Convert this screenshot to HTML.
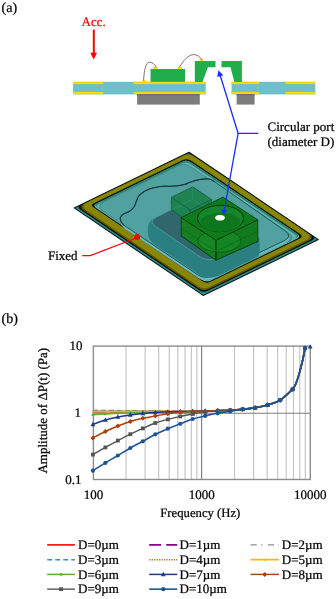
<!DOCTYPE html><html><head><meta charset="utf-8"><title>Figure</title><style>html,body{margin:0;padding:0;background:#fff;overflow:hidden;}svg{display:block;}text{font-family:"Liberation Serif","DejaVu Serif",serif;stroke:#000;stroke-width:0.24px;text-rendering:geometricPrecision;}</style></head><body>
<svg width="336" height="599" viewBox="0 0 336 599">
<rect width="336" height="599" fill="#fff"/>
<text x="1.5" y="12.3" font-size="14">(a)</text>
<text x="81.6" y="25.5" font-size="13" fill="#ff0000" style="stroke:#ff0000">Acc.</text>
<rect x="92.8" y="29.6" width="2" height="23.5" fill="#ff0000"/>
<polygon points="90.3,52.7 97.1,52.7 93.7,59.6" fill="#ff0000"/>
<rect x="73.1" y="81.8" width="132.6" height="12.6" fill="#6fbfca"/>
<rect x="231.6" y="81.8" width="83.7" height="12.6" fill="#6fbfca"/>
<rect x="73.1" y="81.8" width="30.2" height="2.3" fill="#f0dc00"/>
<rect x="73.1" y="91.9" width="30.2" height="2.4" fill="#f0dc00"/>
<rect x="133.6" y="81.8" width="72.1" height="2.3" fill="#f0dc00"/>
<rect x="133.6" y="91.9" width="72.1" height="2.4" fill="#f0dc00"/>
<rect x="231.6" y="81.8" width="27.7" height="2.3" fill="#f0dc00"/>
<rect x="231.6" y="91.9" width="27.7" height="2.4" fill="#f0dc00"/>
<rect x="285.3" y="81.8" width="30" height="2.3" fill="#f0dc00"/>
<rect x="285.3" y="91.9" width="30" height="2.4" fill="#f0dc00"/>
<rect x="137.1" y="94.3" width="62.7" height="10.3" fill="#7c7c7c"/>
<rect x="236.6" y="94.3" width="18" height="10.3" fill="#7c7c7c"/>
<rect x="137.1" y="94.3" width="62.7" height="0.9" fill="#5e5a78"/>
<rect x="236.6" y="94.3" width="18" height="0.9" fill="#5e5a78"/>
<rect x="150.5" y="69" width="34.5" height="12.9" fill="#1fae4b"/>
<polygon points="194.8,61 215.5,61 215.5,67.3 207.9,67.3 202.5,81.9 194.8,81.9" fill="#1fae4b"/>
<polygon points="221.5,61 241.9,61 241.9,81.9 234.4,81.9 230.5,67.3 221.5,67.3" fill="#1fae4b"/>
<rect x="142.2" y="80.2" width="4" height="1.8" fill="#f0dc00"/>
<rect x="153" y="66.9" width="4.5" height="2.2" fill="#f0dc00"/>
<rect x="177.5" y="66.9" width="4.5" height="2.2" fill="#f0dc00"/>
<rect x="199.3" y="59.2" width="4" height="1.9" fill="#f0dc00"/>
<path d="M143.6,80.5 C144,71 145.8,62.2 149.5,62.2 C152.5,62.2 154.8,64.2 156.3,67.2" fill="none" stroke="#666" stroke-width="0.9"/>
<path d="M179.3,67.2 C183.5,60.5 188.5,54.6 193.6,54.6 C197.6,54.6 200.2,57 201.8,59.8" fill="none" stroke="#666" stroke-width="0.9"/>
<polygon points="189,152.3 318.4,239.6 203.2,295.4 74.2,207.9" fill="#2a8a8c" stroke="#06181a" stroke-width="1.1" stroke-linejoin="round"/>
<path d="M185.4,154.14 Q189,152.4 192.32,154.64 L312.18,235.51 Q316.33,238.3 311.83,240.48 L207.87,290.84 Q203.37,293.02 199.23,290.21 L80.57,209.72 Q76.44,206.92 80.94,204.74 Z" fill="#0b0b02"/>
<path d="M184.5,155.08 Q189,152.9 193.14,155.7 L309.06,233.9 Q314.86,237.81 308.56,240.86 L208.94,289.12 Q203.54,291.73 198.58,288.37 L83.86,210.55 Q78.07,206.63 84.37,203.57 Z" fill="#5e5806"/>
<path d="M184.5,155.28 Q189,153.1 193.14,155.9 L306.51,232.38 Q313.14,236.85 305.94,240.34 L209.03,287.28 Q203.63,289.89 198.66,286.52 L86.5,210.44 Q79.88,205.95 87.08,202.46 Z" fill="#898605"/>
<path d="M182.77,160.12 Q187.27,157.94 191.42,160.73 L299.76,233.82 Q303.91,236.62 299.41,238.8 L210.8,281.72 Q206.3,283.9 202.16,281.09 L93.34,207.28 Q90.03,205.03 93.63,203.29 Z" fill="#0d1a12"/>
<path d="M182.6,161.8 Q187.1,159.62 191.25,162.42 L297.09,233.82 Q301.23,236.62 296.73,238.8 L210.88,280.38 Q206.38,282.56 202.24,279.75 L95.92,207.63 Q92.61,205.39 96.21,203.64 Z" fill="#76c8ce"/>
<path d="M182.6,161.8 Q187.1,159.62 191.25,162.42 L296.31,233.3 Q300.45,236.09 295.95,238.27 L211.05,279.4 Q206.55,281.58 202.42,278.77 L96.86,207.17 Q93.55,204.93 97.15,203.18 Z" fill="#2a8468"/>
<path d="M182.26,163.57 Q186.76,161.39 190.9,164.18 L294.58,234.13 Q298.73,236.93 294.23,239.11 L211.05,279.4 Q206.55,281.58 202.42,278.77 L98.24,208.11 Q94.93,205.86 98.53,204.12 Z" fill="#64b5b8"/>
<path d="M179.2,165.35 Q184.6,162.73 189.57,166.09 L288.02,232.51 Q296.31,238.1 287.31,242.46 L213.75,278.09 Q206.55,281.58 199.93,277.08 L103.46,211.65 Q95.19,206.04 104.19,201.68 Z" fill="#52a1a1" stroke="#2d7374" stroke-width="0.6"/>
<path d="M214.5,181.6 C213.58,181.17 211.58,179.33 209,179 C206.42,178.67 202.17,179.05 199,179.6 C195.83,180.15 192.37,181.5 190,182.3 C187.63,183.1 186.87,183.82 184.8,184.4 C182.73,184.98 179.98,185.48 177.6,185.8 C175.22,186.12 172.88,186.22 170.5,186.3 C168.12,186.38 165.68,186.15 163.3,186.3 C160.92,186.45 158.58,186.73 156.2,187.2 C153.82,187.67 151.18,188.27 149,189.1 C146.82,189.93 144.83,191.02 143.1,192.2 C141.37,193.38 139.73,194.65 138.6,196.2 C137.47,197.75 137.07,199.7 136.3,201.5 C135.53,203.3 135.18,205.33 134,207 C132.82,208.67 130.95,210.33 129.2,211.5 C127.45,212.67 124.97,213.02 123.5,214 C122.03,214.98 120.82,216.13 120.4,217.4 C119.98,218.67 120.4,220.28 121,221.6 C121.6,222.92 123.5,224.68 124,225.3 L197.85,274.82 Q204.49,279.28 211.69,275.79 L284.03,240.75 Q293.03,236.39 284.83,230.67 Z" fill="#68babc" transform="translate(0.3,3.2)"/>
<path d="M214.5,181.6 C213.58,181.17 211.58,179.33 209,179 C206.42,178.67 202.17,179.05 199,179.6 C195.83,180.15 192.37,181.5 190,182.3 C187.63,183.1 186.87,183.82 184.8,184.4 C182.73,184.98 179.98,185.48 177.6,185.8 C175.22,186.12 172.88,186.22 170.5,186.3 C168.12,186.38 165.68,186.15 163.3,186.3 C160.92,186.45 158.58,186.73 156.2,187.2 C153.82,187.67 151.18,188.27 149,189.1 C146.82,189.93 144.83,191.02 143.1,192.2 C141.37,193.38 139.73,194.65 138.6,196.2 C137.47,197.75 137.07,199.7 136.3,201.5 C135.53,203.3 135.18,205.33 134,207 C132.82,208.67 130.95,210.33 129.2,211.5 C127.45,212.67 124.97,213.02 123.5,214 C122.03,214.98 120.82,216.13 120.4,217.4 C119.98,218.67 120.4,220.28 121,221.6 C121.6,222.92 123.5,224.68 124,225.3 L197.85,274.82 Q204.49,279.28 211.69,275.79 L284.03,240.75 Q293.03,236.39 284.83,230.67 Z" fill="#52a1a1" stroke="#174a4c" stroke-width="0.9"/>
<path d="M214.5,181.6 C213.58,181.17 211.58,179.33 209,179 C206.42,178.67 202.17,179.05 199,179.6 C195.83,180.15 192.37,181.5 190,182.3 C187.63,183.1 186.87,183.82 184.8,184.4 C182.73,184.98 179.98,185.48 177.6,185.8 C175.22,186.12 172.88,186.22 170.5,186.3 C168.12,186.38 165.68,186.15 163.3,186.3 C160.92,186.45 158.58,186.73 156.2,187.2 C153.82,187.67 151.18,188.27 149,189.1 C146.82,189.93 144.83,191.02 143.1,192.2 C141.37,193.38 139.73,194.65 138.6,196.2 C137.47,197.75 137.07,199.7 136.3,201.5 C135.53,203.3 135.18,205.33 134,207 C132.82,208.67 130.95,210.33 129.2,211.5 C127.45,212.67 124.97,213.02 123.5,214 C122.03,214.98 120.82,216.13 120.4,217.4 C119.98,218.67 120.4,220.28 121,221.6 C121.6,222.92 123.5,224.68 124,225.3" fill="none" stroke="#143a3e" stroke-width="1.15"/>
<path d="M154.98,217.68 Q147.8,221.2 147.8,229.2 L147.8,231.7 Q147.8,239.7 154.42,244.2 L198.24,274 Q208.17,280.75 218.95,275.49 L256.9,257.01 Q259.6,255.7 259.6,252.7 L259.6,240.2 Q259.6,237.2 257.12,235.51 L201.58,197.75 Q199.1,196.06 196.41,197.38 Z" fill="#2a7f80"/>
<path d="M196.41,197.38 Q199.1,196.06 201.58,197.75 L254.64,233.83 Q259.6,237.2 254.21,239.83 L217.16,257.87 Q208.17,262.25 199.9,256.63 L156.07,226.82 Q147.8,221.2 156.78,216.8 Z" fill="#2f676c" stroke="#5aa6a8" stroke-width="0.7"/>
<polygon points="171.4,197.2 192.8,186.8 211.6,199.6 211.6,212.1 190.2,222.5 171.4,209.7" fill="#1f8252" stroke="#0f4a2e" stroke-width="0.6"/>
<polyline points="192.8,199.3 171.4,209.7" fill="none" stroke="#2f9a66" stroke-width="0.6"/>
<polyline points="192.8,186.8 192.8,199.3 211.6,212.1" fill="none" stroke="#2f9a66" stroke-width="0.6"/>
<polyline points="171.4,197.2 190.2,210 211.6,199.6" fill="none" stroke="#0f5a34" stroke-width="0.7"/>
<line x1="190.2" y1="210" x2="190.2" y2="222.5" stroke="#0f5a34" stroke-width="0.7"/>
<polygon points="181.2,217.6 216,240.3 216,260.3 181.2,235.9" fill="#137f21" stroke="#063a0c" stroke-width="0.8"/>
<polygon points="216,240.3 257.8,219.8 257.8,241.5 216,260.3" fill="#117a1f" stroke="#063a0c" stroke-width="0.8"/>
<clipPath id="gbox"><polygon points="181.2,217.6 216,240.3 257.8,219.8 257.8,241.5 216,260.3 181.2,235.9"/></clipPath>
<g clip-path="url(#gbox)"><ellipse cx="219.5" cy="241" rx="21.5" ry="11" fill="#1a9a2c" fill-opacity="0.35" stroke="#08500f" stroke-width="0.8" stroke-opacity="0.8"/>
<polyline points="181.2,235.9 216,260.3 257.8,241.5" fill="none" stroke="#063a0c" stroke-width="0.8"/>
<line x1="216" y1="240.3" x2="216" y2="260.3" stroke="#063a0c" stroke-width="0.8"/>
<ellipse cx="219.5" cy="243.5" rx="16" ry="7.5" fill="none" stroke="#2a9a35" stroke-width="0.7" opacity="0.7"/></g>
<polyline points="181.2,228.1 216,251.3 257.8,231.3" fill="none" stroke="#0a5514" stroke-width="0.6" opacity="0.8"/>
<polygon points="181.2,217.6 223,197.1 257.8,219.8 216,240.3" fill="#0f7b1d" stroke="#063a0c" stroke-width="0.8"/>
<ellipse cx="220.5" cy="218.4" rx="23" ry="13.1" fill="#14852a" stroke="#06330a" stroke-width="1"/>
<ellipse cx="220.5" cy="222.5" rx="20" ry="9.5" fill="#0e761c"/>
<ellipse cx="220" cy="217.7" rx="4.8" ry="2.8" fill="#ffffff"/>
<polyline points="219.3,72.5 238.1,133.3 258.3,133.3" fill="none" stroke="#1a2cff" stroke-width="1.3"/>
<polygon points="218.4,70.3 217.3,77.1 223.2,75.3" fill="#1a2cff"/>
<line x1="238.1" y1="133.3" x2="224.4" y2="209.5" stroke="#1a2cff" stroke-width="1.3"/>
<polygon points="223.5,214.8 221,209.2 227.1,209.8" fill="#1a2cff"/>
<text x="267.5" y="130.8" font-size="13">Circular port</text>
<text x="267.5" y="145.8" font-size="13">(diameter D)</text>
<text x="48" y="260.2" font-size="13">Fixed</text>
<polyline points="82.2,255.6 90.4,255.6 135.5,238.3" fill="none" stroke="#ff0000" stroke-width="1.2"/>
<circle cx="137.2" cy="237.1" r="3" fill="#ff0000"/>
<text x="1.5" y="322.8" font-size="14">(b)</text>
<path d="M126.05,346.1V479.5M145.14,346.1V479.5M158.69,346.1V479.5M169.2,346.1V479.5M177.79,346.1V479.5M185.05,346.1V479.5M191.34,346.1V479.5M196.89,346.1V479.5M234.5,346.1V479.5M253.59,346.1V479.5M267.14,346.1V479.5M277.65,346.1V479.5M286.24,346.1V479.5M293.5,346.1V479.5M299.79,346.1V479.5M305.34,346.1V479.5" stroke="#c4c4c4" stroke-width="1.15" fill="none"/>
<path d="M201.6,346.1V479.5M93.4,413.2H310.3" stroke="#7e7e7e" stroke-width="1.15" fill="none"/>
<rect x="93.4" y="346.1" width="216.9" height="133.4" fill="none" stroke="#8c8c8c" stroke-width="1.4"/>
<path d="M92.9,411.6 C94.98,411.6 101.22,411.6 105.38,411.6 C109.54,411.6 113.7,411.6 117.86,411.6 C122.02,411.6 126.18,411.6 130.34,411.6 C134.5,411.6 138.66,411.6 142.82,411.6 C146.98,411.6 151.14,411.6 155.3,411.6 C159.46,411.6 163.62,411.6 167.78,411.6 C171.94,411.6 176.1,411.6 180.26,411.6 C184.42,411.6 188.58,411.67 192.74,411.6 C196.9,411.53 201.06,411.35 205.22,411.2 C209.38,411.05 213.54,410.87 217.7,410.7 C221.86,410.53 226.02,410.43 230.18,410.2 C234.34,409.97 238.5,409.7 242.66,409.3 C246.82,408.9 250.98,408.53 255.14,407.8 C259.3,407.07 263.46,406.17 267.62,404.9 C271.78,403.63 275.94,402.8 280.1,400.2 C284.26,397.6 290.5,391.12 292.58,389.3 C296.8,385.6 302.5,363 305.1,348" fill="none" stroke="#ff0000" stroke-width="1.6" stroke-linejoin="round"/>
<path d="M92.9,411.7 C94.98,411.7 101.22,411.7 105.38,411.7 C109.54,411.7 113.7,411.7 117.86,411.7 C122.02,411.7 126.18,411.7 130.34,411.7 C134.5,411.7 138.66,411.7 142.82,411.7 C146.98,411.7 151.14,411.7 155.3,411.7 C159.46,411.7 163.62,411.7 167.78,411.7 C171.94,411.7 176.1,411.7 180.26,411.7 C184.42,411.7 188.58,411.78 192.74,411.7 C196.9,411.62 201.06,411.37 205.22,411.2 C209.38,411.03 213.54,410.87 217.7,410.7 C221.86,410.53 226.02,410.43 230.18,410.2 C234.34,409.97 238.5,409.7 242.66,409.3 C246.82,408.9 250.98,408.53 255.14,407.8 C259.3,407.07 263.46,406.17 267.62,404.9 C271.78,403.63 275.94,402.8 280.1,400.2 C284.26,397.6 290.5,391.12 292.58,389.3 C296.8,385.6 302.5,363 305.1,348" fill="none" stroke="#87008f" stroke-width="1.6" stroke-dasharray="12,5" stroke-linejoin="round"/>
<path d="M92.9,411.4 C94.98,411.4 101.22,411.4 105.38,411.4 C109.54,411.4 113.7,411.4 117.86,411.4 C122.02,411.4 126.18,411.4 130.34,411.4 C134.5,411.4 138.66,411.4 142.82,411.4 C146.98,411.4 151.14,411.4 155.3,411.4 C159.46,411.4 163.62,411.4 167.78,411.4 C171.94,411.4 176.1,411.4 180.26,411.4 C184.42,411.4 188.58,411.43 192.74,411.4 C196.9,411.37 201.06,411.32 205.22,411.2 C209.38,411.08 213.54,410.87 217.7,410.7 C221.86,410.53 226.02,410.43 230.18,410.2 C234.34,409.97 238.5,409.7 242.66,409.3 C246.82,408.9 250.98,408.53 255.14,407.8 C259.3,407.07 263.46,406.17 267.62,404.9 C271.78,403.63 275.94,402.8 280.1,400.2 C284.26,397.6 290.5,391.12 292.58,389.3 C296.8,385.6 302.5,363 305.1,348" fill="none" stroke="#8c8c8c" stroke-width="1.4" stroke-dasharray="6.2,4.5,1.2,5.5" stroke-linejoin="round"/>
<path d="M92.9,410.4 C94.98,410.42 101.22,410.47 105.38,410.5 C109.54,410.53 113.7,410.55 117.86,410.6 C122.02,410.65 126.18,410.73 130.34,410.8 C134.5,410.87 138.66,410.95 142.82,411 C146.98,411.05 151.14,411.07 155.3,411.1 C159.46,411.13 163.62,411.17 167.78,411.2 C171.94,411.23 176.1,411.28 180.26,411.3 C184.42,411.32 188.58,411.32 192.74,411.3 C196.9,411.28 201.06,411.3 205.22,411.2 C209.38,411.1 213.54,410.87 217.7,410.7 C221.86,410.53 226.02,410.43 230.18,410.2 C234.34,409.97 238.5,409.7 242.66,409.3 C246.82,408.9 250.98,408.53 255.14,407.8 C259.3,407.07 263.46,406.17 267.62,404.9 C271.78,403.63 275.94,402.8 280.1,400.2 C284.26,397.6 290.5,391.12 292.58,389.3 C296.8,385.6 302.5,363 305.1,348" fill="none" stroke="#3d8ee0" stroke-width="1.5" stroke-dasharray="5,3" stroke-linejoin="round"/>
<path d="M92.9,411.3 C94.98,411.3 101.22,411.3 105.38,411.3 C109.54,411.3 113.7,411.3 117.86,411.3 C122.02,411.3 126.18,411.3 130.34,411.3 C134.5,411.3 138.66,411.3 142.82,411.3 C146.98,411.3 151.14,411.3 155.3,411.3 C159.46,411.3 163.62,411.3 167.78,411.3 C171.94,411.3 176.1,411.3 180.26,411.3 C184.42,411.3 188.58,411.32 192.74,411.3 C196.9,411.28 201.06,411.3 205.22,411.2 C209.38,411.1 213.54,410.87 217.7,410.7 C221.86,410.53 226.02,410.43 230.18,410.2 C234.34,409.97 238.5,409.7 242.66,409.3 C246.82,408.9 250.98,408.53 255.14,407.8 C259.3,407.07 263.46,406.17 267.62,404.9 C271.78,403.63 275.94,402.8 280.1,400.2 C284.26,397.6 290.5,391.12 292.58,389.3 C296.8,385.6 302.5,363 305.1,348" fill="none" stroke="#b07a18" stroke-width="1.5" stroke-dasharray="1.3,1.15" stroke-linejoin="round"/>
<path d="M92.9,411.6 C94.98,411.6 101.22,411.6 105.38,411.6 C109.54,411.6 113.7,411.6 117.86,411.6 C122.02,411.6 126.18,411.6 130.34,411.6 C134.5,411.6 138.66,411.6 142.82,411.6 C146.98,411.6 151.14,411.6 155.3,411.6 C159.46,411.6 163.62,411.6 167.78,411.6 C171.94,411.6 176.1,411.6 180.26,411.6 C184.42,411.6 188.58,411.67 192.74,411.6 C196.9,411.53 201.06,411.35 205.22,411.2 C209.38,411.05 213.54,410.87 217.7,410.7 C221.86,410.53 226.02,410.43 230.18,410.2 C234.34,409.97 238.5,409.7 242.66,409.3 C246.82,408.9 250.98,408.53 255.14,407.8 C259.3,407.07 263.46,406.17 267.62,404.9 C271.78,403.63 275.94,402.8 280.1,400.2 C284.26,397.6 290.5,391.12 292.58,389.3 C296.8,385.6 302.5,363 305.1,348" fill="none" stroke="#ffb400" stroke-width="1.7" stroke-linejoin="round"/>
<path d="M92.9,414.8 C94.98,414.67 101.22,414.25 105.38,414 C109.54,413.75 113.7,413.5 117.86,413.3 C122.02,413.1 126.18,412.95 130.34,412.8 C134.5,412.65 138.66,412.52 142.82,412.4 C146.98,412.28 151.14,412.18 155.3,412.1 C159.46,412.02 163.62,411.97 167.78,411.9 C171.94,411.83 176.1,411.77 180.26,411.7 C184.42,411.63 188.58,411.58 192.74,411.5 C196.9,411.42 201.06,411.33 205.22,411.2 C209.38,411.07 213.54,410.87 217.7,410.7 C221.86,410.53 226.02,410.43 230.18,410.2 C234.34,409.97 238.5,409.7 242.66,409.3 C246.82,408.9 250.98,408.53 255.14,407.8 C259.3,407.07 263.46,406.17 267.62,404.9 C271.78,403.63 275.94,402.8 280.1,400.2 C284.26,397.6 290.5,391.12 292.58,389.3 C296.8,385.6 302.5,363 305.1,348" fill="none" stroke="#5aaf32" stroke-width="1.5" stroke-linejoin="round"/>
<rect x="91.7" y="413.6" width="2.4" height="2.4" fill="#5aaf32"/><rect x="104.18" y="412.8" width="2.4" height="2.4" fill="#5aaf32"/><rect x="116.66" y="412.1" width="2.4" height="2.4" fill="#5aaf32"/><rect x="129.14" y="411.6" width="2.4" height="2.4" fill="#5aaf32"/><rect x="141.62" y="411.2" width="2.4" height="2.4" fill="#5aaf32"/><rect x="154.1" y="410.9" width="2.4" height="2.4" fill="#5aaf32"/><rect x="166.58" y="410.7" width="2.4" height="2.4" fill="#5aaf32"/><rect x="179.06" y="410.5" width="2.4" height="2.4" fill="#5aaf32"/><rect x="191.54" y="410.3" width="2.4" height="2.4" fill="#5aaf32"/><rect x="204.02" y="410" width="2.4" height="2.4" fill="#5aaf32"/><rect x="216.5" y="409.5" width="2.4" height="2.4" fill="#5aaf32"/><rect x="228.98" y="409" width="2.4" height="2.4" fill="#5aaf32"/><rect x="241.46" y="408.1" width="2.4" height="2.4" fill="#5aaf32"/><rect x="253.94" y="406.6" width="2.4" height="2.4" fill="#5aaf32"/><rect x="266.42" y="403.7" width="2.4" height="2.4" fill="#5aaf32"/><rect x="278.9" y="399" width="2.4" height="2.4" fill="#5aaf32"/><rect x="291.38" y="388.1" width="2.4" height="2.4" fill="#5aaf32"/><rect x="303.86" y="346.8" width="2.4" height="2.4" fill="#5aaf32"/>
<path d="M92.9,424.4 C94.98,423.67 101.22,421.23 105.38,420 C109.54,418.77 113.7,417.85 117.86,417 C122.02,416.15 126.18,415.5 130.34,414.9 C134.5,414.3 138.66,413.82 142.82,413.4 C146.98,412.98 151.14,412.67 155.3,412.4 C159.46,412.13 163.62,411.95 167.78,411.8 C171.94,411.65 176.1,411.58 180.26,411.5 C184.42,411.42 188.58,411.37 192.74,411.3 C196.9,411.23 201.06,411.2 205.22,411.1 C209.38,411 213.54,410.85 217.7,410.7 C221.86,410.55 226.02,410.43 230.18,410.2 C234.34,409.97 238.5,409.7 242.66,409.3 C246.82,408.9 250.98,408.53 255.14,407.8 C259.3,407.07 263.46,406.17 267.62,404.9 C271.78,403.63 275.94,402.8 280.1,400.2 C284.26,397.6 290.5,391.12 292.58,389.3 C296.8,385.6 302.5,363 305.1,348" fill="none" stroke="#1f3a86" stroke-width="1.5" stroke-linejoin="round"/>
<polygon points="92.9,421.8 95.3,426.2 90.5,426.2" fill="#1f3a86"/><polygon points="105.38,417.4 107.78,421.8 102.98,421.8" fill="#1f3a86"/><polygon points="117.86,414.4 120.26,418.8 115.46,418.8" fill="#1f3a86"/><polygon points="130.34,412.3 132.74,416.7 127.94,416.7" fill="#1f3a86"/><polygon points="142.82,410.8 145.22,415.2 140.42,415.2" fill="#1f3a86"/><polygon points="155.3,409.8 157.7,414.2 152.9,414.2" fill="#1f3a86"/><polygon points="167.78,409.2 170.18,413.6 165.38,413.6" fill="#1f3a86"/><polygon points="180.26,408.9 182.66,413.3 177.86,413.3" fill="#1f3a86"/><polygon points="192.74,408.7 195.14,413.1 190.34,413.1" fill="#1f3a86"/><polygon points="205.22,408.5 207.62,412.9 202.82,412.9" fill="#1f3a86"/><polygon points="217.7,408.1 220.1,412.5 215.3,412.5" fill="#1f3a86"/><polygon points="230.18,407.6 232.58,412 227.78,412" fill="#1f3a86"/><polygon points="242.66,406.7 245.06,411.1 240.26,411.1" fill="#1f3a86"/><polygon points="255.14,405.2 257.54,409.6 252.74,409.6" fill="#1f3a86"/><polygon points="267.62,402.3 270.02,406.7 265.22,406.7" fill="#1f3a86"/><polygon points="280.1,397.6 282.5,402 277.7,402" fill="#1f3a86"/><polygon points="292.58,386.7 294.98,391.1 290.18,391.1" fill="#1f3a86"/><polygon points="305.06,345.4 307.46,349.8 302.66,349.8" fill="#1f3a86"/>
<path d="M92.9,437.9 C94.98,436.83 101.22,433.48 105.38,431.5 C109.54,429.52 113.7,427.67 117.86,426 C122.02,424.33 126.18,422.78 130.34,421.5 C134.5,420.22 138.66,419.2 142.82,418.3 C146.98,417.4 151.14,416.87 155.3,416.1 C159.46,415.33 163.62,414.37 167.78,413.7 C171.94,413.03 176.1,412.47 180.26,412.1 C184.42,411.73 188.58,411.68 192.74,411.5 C196.9,411.32 201.06,411.15 205.22,411 C209.38,410.85 213.54,410.73 217.7,410.6 C221.86,410.47 226.02,410.42 230.18,410.2 C234.34,409.98 238.5,409.7 242.66,409.3 C246.82,408.9 250.98,408.53 255.14,407.8 C259.3,407.07 263.46,406.17 267.62,404.9 C271.78,403.63 275.94,402.8 280.1,400.2 C284.26,397.6 290.5,391.12 292.58,389.3 C296.8,385.6 302.5,363 305.1,348" fill="none" stroke="#ab420c" stroke-width="1.4" stroke-linejoin="round"/>
<polygon points="92.9,435.4 95.4,437.9 92.9,440.4 90.4,437.9" fill="#ab420c"/><polygon points="105.38,429 107.88,431.5 105.38,434 102.88,431.5" fill="#ab420c"/><polygon points="117.86,423.5 120.36,426 117.86,428.5 115.36,426" fill="#ab420c"/><polygon points="130.34,419 132.84,421.5 130.34,424 127.84,421.5" fill="#ab420c"/><polygon points="142.82,415.8 145.32,418.3 142.82,420.8 140.32,418.3" fill="#ab420c"/><polygon points="155.3,413.6 157.8,416.1 155.3,418.6 152.8,416.1" fill="#ab420c"/><polygon points="167.78,411.2 170.28,413.7 167.78,416.2 165.28,413.7" fill="#ab420c"/><polygon points="180.26,409.6 182.76,412.1 180.26,414.6 177.76,412.1" fill="#ab420c"/><polygon points="192.74,409 195.24,411.5 192.74,414 190.24,411.5" fill="#ab420c"/><polygon points="205.22,408.5 207.72,411 205.22,413.5 202.72,411" fill="#ab420c"/><polygon points="217.7,408.1 220.2,410.6 217.7,413.1 215.2,410.6" fill="#ab420c"/><polygon points="230.18,407.7 232.68,410.2 230.18,412.7 227.68,410.2" fill="#ab420c"/><polygon points="242.66,406.8 245.16,409.3 242.66,411.8 240.16,409.3" fill="#ab420c"/><polygon points="255.14,405.3 257.64,407.8 255.14,410.3 252.64,407.8" fill="#ab420c"/><polygon points="267.62,402.4 270.12,404.9 267.62,407.4 265.12,404.9" fill="#ab420c"/><polygon points="280.1,397.7 282.6,400.2 280.1,402.7 277.6,400.2" fill="#ab420c"/><polygon points="292.58,386.8 295.08,389.3 292.58,391.8 290.08,389.3" fill="#ab420c"/><polygon points="305.06,345.5 307.56,348 305.06,350.5 302.56,348" fill="#ab420c"/>
<path d="M92.9,454.6 C94.98,453.4 101.22,449.73 105.38,447.4 C109.54,445.07 113.7,442.8 117.86,440.6 C122.02,438.4 126.18,436.23 130.34,434.2 C134.5,432.17 138.66,430.27 142.82,428.4 C146.98,426.53 151.14,424.5 155.3,423 C159.46,421.5 163.62,420.5 167.78,419.4 C171.94,418.3 176.1,417.3 180.26,416.4 C184.42,415.5 188.58,414.75 192.74,414 C196.9,413.25 201.06,412.43 205.22,411.9 C209.38,411.37 213.54,411.1 217.7,410.8 C221.86,410.5 226.02,410.35 230.18,410.1 C234.34,409.85 238.5,409.68 242.66,409.3 C246.82,408.92 250.98,408.53 255.14,407.8 C259.3,407.07 263.46,406.17 267.62,404.9 C271.78,403.63 275.94,402.8 280.1,400.2 C284.26,397.6 290.5,391.12 292.58,389.3 C296.8,385.6 302.5,363 305.1,348" fill="none" stroke="#555555" stroke-width="1.4" stroke-linejoin="round"/>
<rect x="91" y="452.7" width="3.8" height="3.8" fill="#555555"/><rect x="103.48" y="445.5" width="3.8" height="3.8" fill="#555555"/><rect x="115.96" y="438.7" width="3.8" height="3.8" fill="#555555"/><rect x="128.44" y="432.3" width="3.8" height="3.8" fill="#555555"/><rect x="140.92" y="426.5" width="3.8" height="3.8" fill="#555555"/><rect x="153.4" y="421.1" width="3.8" height="3.8" fill="#555555"/><rect x="165.88" y="417.5" width="3.8" height="3.8" fill="#555555"/><rect x="178.36" y="414.5" width="3.8" height="3.8" fill="#555555"/><rect x="190.84" y="412.1" width="3.8" height="3.8" fill="#555555"/><rect x="203.32" y="410" width="3.8" height="3.8" fill="#555555"/><rect x="215.8" y="408.9" width="3.8" height="3.8" fill="#555555"/><rect x="228.28" y="408.2" width="3.8" height="3.8" fill="#555555"/><rect x="240.76" y="407.4" width="3.8" height="3.8" fill="#555555"/><rect x="253.24" y="405.9" width="3.8" height="3.8" fill="#555555"/><rect x="265.72" y="403" width="3.8" height="3.8" fill="#555555"/><rect x="278.2" y="398.3" width="3.8" height="3.8" fill="#555555"/><rect x="290.68" y="387.4" width="3.8" height="3.8" fill="#555555"/><rect x="303.16" y="346.1" width="3.8" height="3.8" fill="#555555"/>
<path d="M92.9,470.7 C94.98,469.4 101.22,465.43 105.38,462.9 C109.54,460.37 113.7,457.98 117.86,455.5 C122.02,453.02 126.18,450.37 130.34,448 C134.5,445.63 138.66,443.58 142.82,441.3 C146.98,439.02 151.14,436.4 155.3,434.3 C159.46,432.2 163.62,430.45 167.78,428.7 C171.94,426.95 176.1,425.42 180.26,423.8 C184.42,422.18 188.58,420.32 192.74,419 C196.9,417.68 201.06,416.85 205.22,415.9 C209.38,414.95 213.54,414.05 217.7,413.3 C221.86,412.55 226.02,412.08 230.18,411.4 C234.34,410.72 238.5,409.8 242.66,409.2 C246.82,408.6 250.98,408.52 255.14,407.8 C259.3,407.08 263.46,406.17 267.62,404.9 C271.78,403.63 275.94,402.8 280.1,400.2 C284.26,397.6 290.5,391.12 292.58,389.3 C296.8,385.6 302.5,363 305.1,348" fill="none" stroke="#1c5596" stroke-width="1.6" stroke-linejoin="round"/>
<circle cx="92.9" cy="470.7" r="2.1" fill="#1c5596"/><circle cx="105.38" cy="462.9" r="2.1" fill="#1c5596"/><circle cx="117.86" cy="455.5" r="2.1" fill="#1c5596"/><circle cx="130.34" cy="448" r="2.1" fill="#1c5596"/><circle cx="142.82" cy="441.3" r="2.1" fill="#1c5596"/><circle cx="155.3" cy="434.3" r="2.1" fill="#1c5596"/><circle cx="167.78" cy="428.7" r="2.1" fill="#1c5596"/><circle cx="180.26" cy="423.8" r="2.1" fill="#1c5596"/><circle cx="192.74" cy="419" r="2.1" fill="#1c5596"/><circle cx="205.22" cy="415.9" r="2.1" fill="#1c5596"/><circle cx="217.7" cy="413.3" r="2.1" fill="#1c5596"/><circle cx="230.18" cy="411.4" r="2.1" fill="#1c5596"/><circle cx="242.66" cy="409.2" r="2.1" fill="#1c5596"/><circle cx="255.14" cy="407.8" r="2.1" fill="#1c5596"/><circle cx="267.62" cy="404.9" r="2.1" fill="#1c5596"/><circle cx="280.1" cy="400.2" r="2.1" fill="#1c5596"/><circle cx="292.58" cy="389.3" r="2.1" fill="#1c5596"/><circle cx="305.06" cy="348" r="2.1" fill="#1c5596"/>
<polygon points="310.2,344.2 312.6,348.6 307.8,348.6" fill="#1f3b8c"/>
<g font-size="13" text-anchor="end">
<text x="82.6" y="349.8">10</text>
<text x="81" y="417">1</text>
<text x="81.5" y="483.8">0.1</text>
</g>
<g font-size="13" text-anchor="middle">
<text x="93.4" y="499.2">100</text>
<text x="201.85" y="499.2">1000</text>
<text x="310.3" y="499.2">10000</text>
<text x="200.3" y="517.3" font-size="12.7">Frequency (Hz)</text>
</g>
<text transform="translate(47,410.7) rotate(-90)" font-size="13" text-anchor="middle">Amplitude of ΔP(t) (Pa)</text>
<line x1="47.2" y1="544.9" x2="74.9" y2="544.9" stroke="#ff0000" stroke-width="1.6"/>
<text x="78" y="549.2" font-size="13">D=0µm</text>
<line x1="149.2" y1="544.9" x2="177.3" y2="544.9" stroke="#87008f" stroke-width="1.6" stroke-dasharray="12,5"/>
<text x="179.5" y="549.2" font-size="13">D=1µm</text>
<line x1="250.5" y1="544.9" x2="279" y2="544.9" stroke="#8c8c8c" stroke-width="1.4" stroke-dasharray="6.2,4.5,1.2,5.5"/>
<text x="281.8" y="549.2" font-size="13">D=2µm</text>
<line x1="47.2" y1="559.65" x2="74.9" y2="559.65" stroke="#3d8ee0" stroke-width="1.5" stroke-dasharray="5,3"/>
<text x="78" y="563.95" font-size="13">D=3µm</text>
<line x1="149.2" y1="559.65" x2="177.3" y2="559.65" stroke="#b07a18" stroke-width="1.5" stroke-dasharray="1.3,1.15"/>
<text x="179.5" y="563.95" font-size="13">D=4µm</text>
<line x1="250.5" y1="559.65" x2="279" y2="559.65" stroke="#ffb400" stroke-width="1.7"/>
<circle cx="264.75" cy="559.65" r="1.2" fill="#ffb400"/>
<text x="281.8" y="563.95" font-size="13">D=5µm</text>
<line x1="47.2" y1="574.4" x2="74.9" y2="574.4" stroke="#5aaf32" stroke-width="1.5"/>
<rect x="59.85" y="573.2" width="2.4" height="2.4" fill="#5aaf32"/>
<text x="78" y="578.7" font-size="13">D=6µm</text>
<line x1="149.2" y1="574.4" x2="177.3" y2="574.4" stroke="#1f3a86" stroke-width="1.5"/>
<polygon points="163.25,571.8 165.65,576.2 160.85,576.2" fill="#1f3a86"/>
<text x="179.5" y="578.7" font-size="13">D=7µm</text>
<line x1="250.5" y1="574.4" x2="279" y2="574.4" stroke="#ab420c" stroke-width="1.4"/>
<polygon points="264.75,571.9 267.25,574.4 264.75,576.9 262.25,574.4" fill="#ab420c"/>
<text x="281.8" y="578.7" font-size="13">D=8µm</text>
<line x1="47.2" y1="589.15" x2="74.9" y2="589.15" stroke="#555555" stroke-width="1.4"/>
<rect x="59.15" y="587.25" width="3.8" height="3.8" fill="#555555"/>
<text x="78" y="593.45" font-size="13">D=9µm</text>
<line x1="149.2" y1="589.15" x2="177.3" y2="589.15" stroke="#1c5596" stroke-width="1.6"/>
<circle cx="163.25" cy="589.15" r="2.1" fill="#1c5596"/>
<text x="179.5" y="593.45" font-size="13">D=10µm</text>
</svg></body></html>
